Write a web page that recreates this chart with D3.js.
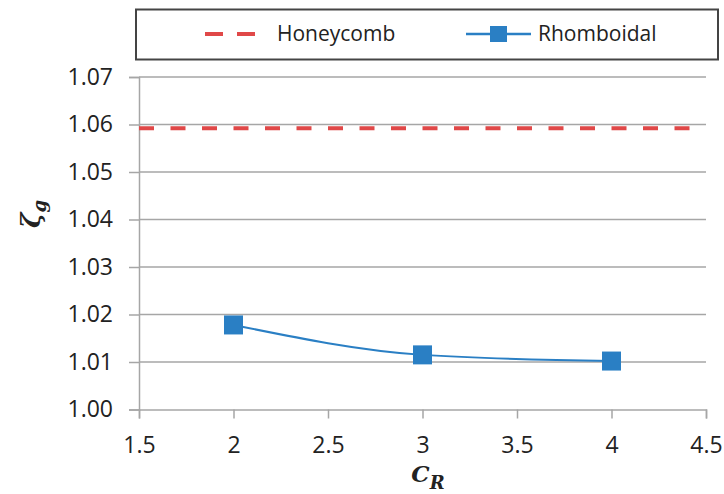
<!DOCTYPE html>
<html>
<head>
<meta charset="utf-8">
<script src="https://cdn.jsdelivr.net/npm/d3@7"></script>
<style>
  body { margin: 0; background: #fff; }
  svg text { font-family: "Open Sans", "Noto Sans", sans-serif; fill: #222; }
</style>
</head>
<body>
<div id="chart"></div>
<script>
// data
const xTicks = [1.5, 2, 2.5, 3, 3.5, 4, 4.5];
const yTicks = [1.00, 1.01, 1.02, 1.03, 1.04, 1.05, 1.06, 1.07];
const honeycombValue = 1.0592;
const rhomboidalX = [2, 3, 4];
const rhomboidalY = [1.0178, 1.0115, 1.0102];

const svg = d3.select("#chart")
  .append("svg")
  .attr("width", 724)
  .attr("height", 494);

const x = d3.scaleLinear().domain([1.5, 4.5]).range([139, 706]);
const y = d3.scaleLinear().domain([1.00, 1.07]).range([409.5, 77]);

const axisColor = "#a6a6a6";
const blue = "#2a7fc4";
const red = "#e04848";

// gridlines
svg.append("g")
  .selectAll("line")
  .data(yTicks.slice(1))
  .enter()
  .append("line")
  .attr("x1", x(1.5))
  .attr("x2", x(4.5))
  .attr("y1", d => y(d))
  .attr("y2", d => y(d))
  .attr("stroke", axisColor)
  .attr("stroke-width", 1.3);

// y axis
const yAxis = svg.append("g")
  .attr("transform", `translate(${x(1.5)},0)`)
  .call(d3.axisLeft(y).tickValues(yTicks).tickFormat(d3.format(".2f")).tickSize(10).tickPadding(16));

// x axis
const xAxis = svg.append("g")
  .attr("transform", `translate(0,${y(1.00)})`)
  .call(d3.axisBottom(x).tickValues(xTicks).tickFormat(d => d).tickSize(9).tickPadding(18));

[yAxis, xAxis].forEach(a => {
  a.select(".domain").attr("stroke", axisColor).attr("stroke-width", 1.5);
  a.selectAll(".tick line").attr("stroke", axisColor).attr("stroke-width", 1.5);
  a.selectAll(".tick text").style("font-size", "23px").attr("fill", "#222");
});

// Honeycomb reference line
svg.append("line")
  .attr("x1", x(1.5))
  .attr("x2", x(4.5))
  .attr("y1", y(honeycombValue))
  .attr("y2", y(honeycombValue))
  .attr("stroke", red)
  .attr("stroke-width", 4)
  .attr("stroke-dasharray", "15,16.5");

// Rhomboidal series
const pts = rhomboidalX.map((v, i) => [v, rhomboidalY[i]]);
const line = d3.line().x(d => x(d[0])).y(d => y(d[1])).curve(d3.curveMonotoneX);

svg.append("path")
  .datum(pts)
  .attr("fill", "none")
  .attr("stroke", blue)
  .attr("stroke-width", 2)
  .attr("d", line);

const ms = 19;
svg.selectAll("rect.pt")
  .data(pts)
  .enter()
  .append("rect")
  .attr("class", "pt")
  .attr("x", d => x(d[0]) - ms / 2)
  .attr("y", d => y(d[1]) - ms / 2)
  .attr("width", ms)
  .attr("height", ms)
  .attr("fill", blue);

// axis titles
svg.append("text")
  .attr("transform", "translate(40,214) rotate(-90)")
  .attr("text-anchor", "middle")
  .style("font-family", "'DejaVu Serif', serif")
  .style("font-weight", "bold")
  .style("font-style", "italic")
  .style("font-size", "26px")
  .attr("fill", "#000")
  .html('ζ<tspan dy="6" style="font-size:18px">g</tspan>');

svg.append("text")
  .attr("x", 428)
  .attr("y", 482)
  .attr("text-anchor", "middle")
  .style("font-family", "'DejaVu Serif', serif")
  .style("font-weight", "bold")
  .style("font-style", "italic")
  .style("font-size", "23px")
  .attr("fill", "#000")
  .html('C<tspan dy="7" style="font-size:18px">R</tspan>');

// legend
svg.append("rect")
  .attr("x", 136)
  .attr("y", 9.5)
  .attr("width", 582)
  .attr("height", 50)
  .attr("fill", "#fff")
  .attr("stroke", "#444")
  .attr("stroke-width", 2);

svg.append("line")
  .attr("x1", 205).attr("x2", 256)
  .attr("y1", 34).attr("y2", 34)
  .attr("stroke", red)
  .attr("stroke-width", 4)
  .attr("stroke-dasharray", "18,14");

svg.append("text")
  .attr("x", 277).attr("y", 41)
  .style("font-size", "21px")
  .text("Honeycomb");

svg.append("line")
  .attr("x1", 466).attr("x2", 531)
  .attr("y1", 34).attr("y2", 34)
  .attr("stroke", blue)
  .attr("stroke-width", 2.5);

svg.append("rect")
  .attr("x", 490).attr("y", 26)
  .attr("width", 17).attr("height", 16)
  .attr("fill", blue);

svg.append("text")
  .attr("x", 538).attr("y", 41)
  .style("font-size", "21px")
  .text("Rhomboidal");
</script>
</body>
</html>
